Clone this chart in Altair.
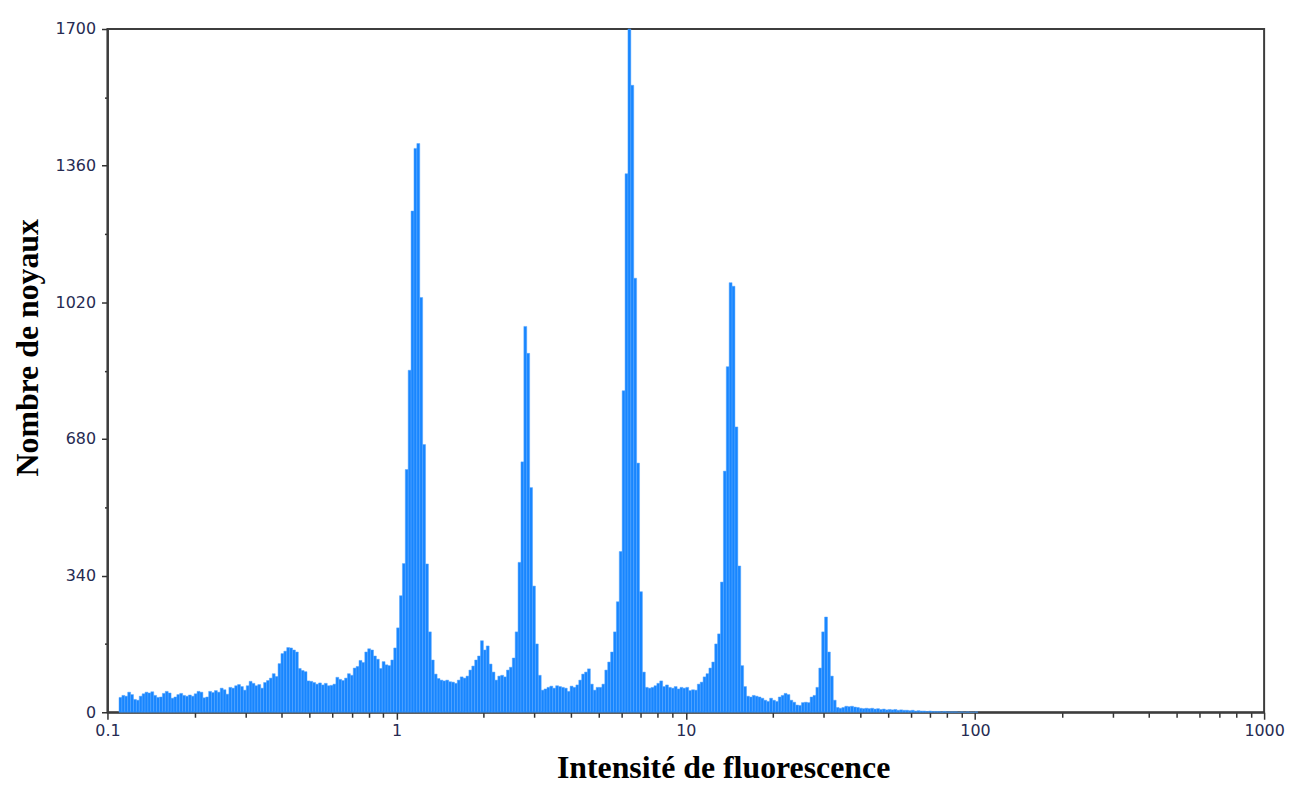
import altair as alt
import pandas as pd

# Histogram channels: logarithmic bins of 0.01 decade, first bin index 4 (bin i spans 10^(-1+i*0.01) .. 10^(-1+(i+1)*0.01))
first_bin = 4
bin_width_log = 0.01
counts = [
    # i4 - i100
    37, 42, 40, 50, 44, 32, 30, 40, 46, 50,
    48, 51, 42, 37, 38, 47, 52, 48, 35, 38,
    44, 47, 42, 40, 43, 40, 46, 52, 50, 36,
    38, 52, 49, 54, 50, 60, 56, 45, 62, 60,
    66, 69, 64, 55, 66, 77, 72, 66, 69, 60,
    74, 79, 85, 96, 89, 121, 146, 152, 161, 160,
    155, 150, 109, 104, 101, 78, 77, 74, 70, 73,
    68, 72, 66, 67, 70, 87, 82, 79, 85, 96,
    92, 110, 114, 129, 124, 150, 158, 155, 140, 132,
    109, 126, 118, 116, 130, 160, 210,
    # i101 - i150
    290, 370, 604, 851, 1247, 1403, 1415, 1032, 666, 369,
    200, 130, 95, 84, 80, 78, 80, 76, 75, 72,
    80, 88, 85, 90, 105, 115, 130, 140, 178, 155,
    165, 120, 100, 80, 90, 92, 88, 105, 112, 135,
    200, 373, 623, 960, 893, 559, 314, 170, 92, 55,
    # i151 - i200
    58, 62, 65, 60, 66, 64, 62, 60, 52, 65,
    62, 68, 80, 95, 100, 108, 70, 55, 62, 62,
    70, 105, 125, 150, 200, 275, 400, 800, 1340, 1700,
    1560, 1080, 620, 300, 100, 62, 60, 62, 66, 72,
    78, 64, 68, 62, 60, 64, 58, 62, 60, 62,
    # i201 - i250
    54, 56, 55, 70, 75, 88, 96, 110, 125, 170,
    195, 324, 600, 860, 1069, 1060, 710, 364, 116, 64,
    40, 38, 42, 40, 38, 35, 30, 27, 35, 30,
    27, 38, 42, 47, 44, 30, 25, 18, 17, 24,
    25, 24, 38, 42, 62, 110, 200, 237, 150, 90,
    # i251 - i300
    30, 12, 10, 12, 15, 14, 15, 13, 12, 10,
    9, 10, 9, 10, 8, 9, 7, 8, 6, 7,
    6, 7, 5, 6, 5, 5, 4, 5, 3, 4,
    3, 3, 2, 3, 2, 2, 2, 1, 2, 1,
    1, 1, 1, 0, 1, 0, 1, 0, 0, 1,
]

x_tick_values = [0.1, 0.2, 0.3, 0.4, 0.5, 0.6, 0.7, 0.8, 0.9,
                 1, 2, 3, 4, 5, 6, 7, 8, 9,
                 10, 20, 30, 40, 50, 60, 70, 80, 90,
                 100, 200, 300, 400, 500, 600, 700, 800, 900, 1000]
x_label_values = [0.1, 1, 10, 100, 1000]
y_tick_values = [0, 170, 340, 510, 680, 850, 1020, 1190, 1360, 1530, 1700]

x_title = "Intensité de fluorescence"
y_title = "Nombre de noyaux"

rows = []
for k, c in enumerate(counts):
    i = first_bin + k
    rows.append({
        "lo": 10 ** (-1 + i * bin_width_log),
        "hi": 10 ** (-1 + (i + 1) * bin_width_log),
        "count": c,
    })
df = pd.DataFrame(rows)

major_x_test = "indexof([0.1,1,10,100,1000], datum.value) >= 0"

chart = alt.Chart(df).mark_rect(
    color="#1886ff", stroke="#55a6ff", strokeWidth=0.5
).encode(
    x=alt.X("lo:Q",
            scale=alt.Scale(type="log", domain=[0.1, 1000], nice=False),
            axis=alt.Axis(values=x_tick_values, format="~g",
                          labelExpr=major_x_test + " ? datum.label : ''",
                          tickSize={"condition": {"test": major_x_test, "value": 7}, "value": 5},
                          labelPadding=3, labelFlush=False, labelOverlap=False,
                          title=x_title, titleX=619, titleY=66,
                          titleAlign="center", titleBaseline="alphabetic")),
    x2="hi:Q",
    y=alt.Y("count:Q",
            scale=alt.Scale(domain=[0, 1700], nice=False),
            axis=alt.Axis(values=y_tick_values, format="d",
                          labelExpr="datum.value % 340 === 0 ? datum.label : ''",
                          tickSize={"condition": {"test": "datum.value % 340 !== 0", "value": 3}, "value": 6},
                          labelPadding=6, labelOverlap=False, labelFlush=False,
                          title=y_title, titleX=-70, titleY=320, titleAngle=270,
                          titleAlign="center", titleBaseline="alphabetic")),
    y2=alt.datum(0),
).properties(
    width=1163, height=687,
    autosize=alt.AutoSizeParams(type="none"),
    padding={"left": 100, "top": 19, "right": 21, "bottom": 72},
).configure_view(
    stroke="#3d3d3d", strokeWidth=2
).configure_axis(
    grid=False,
    domainColor="#3d3d3d", domainWidth=2,
    tickColor="#333333", tickWidth=1.5,
    labelFont="DejaVu Sans", labelFontSize=16, labelColor="#262b52",
    titleFont="Liberation Serif", titleFontWeight="bold", titleFontSize=32, titleColor="#000000",
)

chart.save("out.html", embed_options={"renderer": "svg", "actions": False})
